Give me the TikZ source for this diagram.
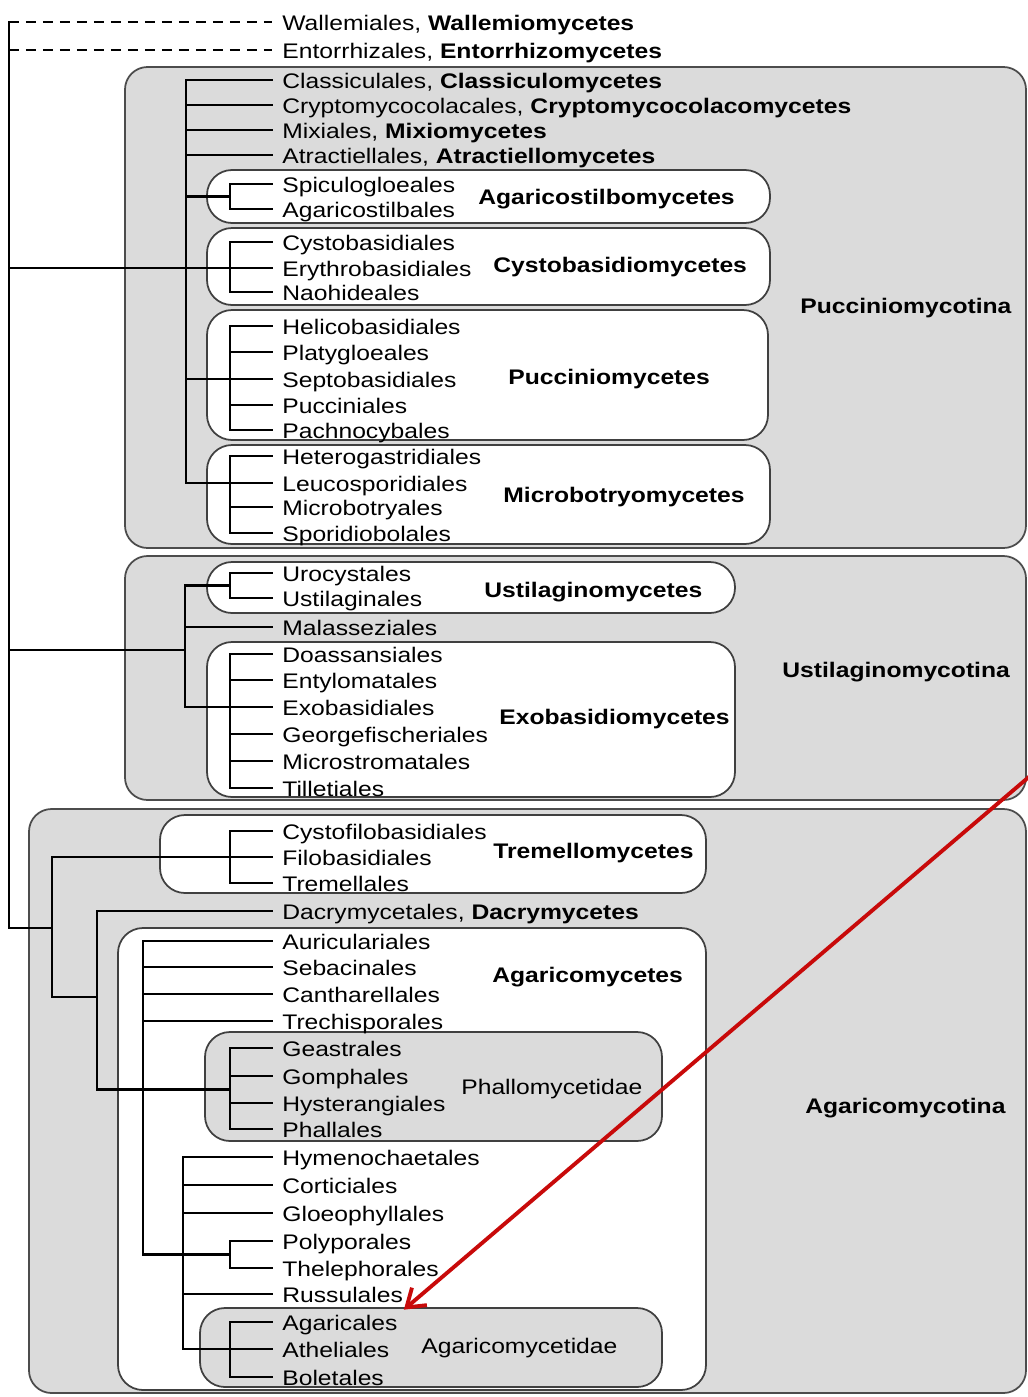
\documentclass[tikz,border=0pt]{standalone}
\usepackage{fontspec}
\setmainfont{Liberation Sans}[FakeStretch=1.17]
\usetikzlibrary{positioning,arrows.meta,calc}
\definecolor{boxgray}{gray}{0.86}
\definecolor{arrowred}{RGB}{200,10,10}
\tikzset{
  leaf/.style={anchor=west,inner xsep=0.2cm,inner ysep=0pt,text height=0.36cm,text depth=0.04cm,font=\fontsize{12}{14}\selectfont},
  grp/.style={anchor=west,inner sep=0pt,text height=0.36cm,text depth=0.04cm,font=\fontsize{12}{14}\selectfont\bfseries},
  subgrp/.style={anchor=west,inner sep=0pt,text height=0.36cm,text depth=0.04cm,font=\fontsize{12}{14}\selectfont},
  tree/.style={line width=1.2pt,line cap=rect},
  brokenline/.style={line width=0.9pt,dash pattern=on 0.2cm off 0.14cm},
  outerbox/.style={draw=black!70,line width=1pt,fill=boxgray,rounded corners=0.45cm},
  classbox/.style={draw=black!75,line width=1pt,fill=white,rounded corners=0.5cm},
  subbox/.style={draw=black!75,line width=1pt,fill=boxgray,rounded corners=0.5cm},
  redarrow/.style={draw=arrowred,line width=2.2pt,-{Straight Barb[length=0.34cm,width=0.46cm]}},
}
\begin{document}
\begin{tikzpicture}[x=0.02cm,y=-0.02cm]
\useasboundingbox (0,0) rectangle (1028,1397);
% subphyla
\draw[outerbox] (125,67) rectangle (1026,548);
\draw[outerbox] (125,556) rectangle (1026,800);
\draw[outerbox] (29,809) rectangle (1026,1393);
% classes
\draw[classbox] (207,170) rectangle (770,223);
\draw[classbox] (207,228) rectangle (770,305);
\draw[classbox] (207,310) rectangle (768,440);
\draw[classbox] (207,445) rectangle (770,544);
\draw[classbox] (207,562) rectangle (735,613);
\draw[classbox] (207,642) rectangle (735,797);
\draw[classbox] (160,815) rectangle (706,893);
\draw[classbox] (118,928) rectangle (706,1390);
% subclasses
\draw[subbox] (205,1032) rectangle (662,1141);
\draw[subbox] (200,1308) rectangle (662,1387);

% orders
\foreach \nm/\y/\txt in {
  walle/22/{Wallemiales, \textbf{Wallemiomycetes}},
  entor/50/{Entorrhizales, \textbf{Entorrhizomycetes}},
  classi/80/{Classiculales, \textbf{Classiculomycetes}},
  crypto/105/{Cryptomycocolacales, \textbf{Cryptomycocolacomycetes}},
  mixi/130/{Mixiales, \textbf{Mixiomycetes}},
  atrac/155/{Atractiellales, \textbf{Atractiellomycetes}},
  spicu/184/Spiculogloeales, agcos/209/Agaricostilbales,
  cysto/242/Cystobasidiales, erythro/268/Erythrobasidiales, naohi/292/Naohideales,
  helico/326/Helicobasidiales, platy/352/Platygloeales, septo/379/Septobasidiales,
  pucci/405/Pucciniales, pachno/430/Pachnocybales,
  hetero/456/Heterogastridiales, leuco/483/Leucosporidiales,
  micro/507/Microbotryales, sporid/533/Sporidiobolales,
  uro/573/Urocystales, ustil/598/Ustilaginales, malas/627/Malasseziales,
  doass/654/Doassansiales, entyl/680/Entylomatales, exoba/707/Exobasidiales,
  georg/734/Georgefischeriales, mistr/761/Microstromatales, tille/788/Tilletiales,
  cyfil/831/Cystofilobasidiales, filob/857/Filobasidiales, treme/883/Tremellales,
  dacry/911/{Dacrymycetales, \textbf{Dacrymycetes}},
  auric/941/Auriculariales, sebac/967/Sebacinales, canth/994/Cantharellales,
  trech/1021/Trechisporales,
  geast/1048/Geastrales, gomph/1076/Gomphales, hyste/1103/Hysterangiales, phall/1129/Phallales,
  hymen/1157/Hymenochaetales, corti/1185/Corticiales, gloeo/1213/Gloeophyllales,
  polyp/1241/Polyporales, theleph/1268/Thelephorales, russu/1294/Russulales,
  agari/1322/Agaricales, athel/1349/Atheliales, bolet/1377/Boletales}
  {\node[leaf] (\nm) at (272,\y) {\txt};}

% group names
\node[grp] (agcosC) at (478,196) {Agaricostilbomycetes};
\node[grp] (cystoC) at (493,264) {Cystobasidiomycetes};
\node[grp] (pucciC) at (508,376) {Pucciniomycetes};
\node[grp] (microC) at (503,494) {Microbotryomycetes};
\node[grp] (ustilC) at (484,589) {Ustilaginomycetes};
\node[grp] (exobaC) at (499,716) {Exobasidiomycetes};
\node[grp] (tremeC) at (493,850) {Tremellomycetes};
\node[grp] (agariC) at (492,974) {Agaricomycetes};
\node[subgrp] (phallS) at (461,1086) {Phallomycetidae};
\node[subgrp] (agariS) at (421,1345) {Agaricomycetidae};
\node[grp] (pucciP) at (800,305) {Pucciniomycotina};
\node[grp] (ustilP) at (782,669) {Ustilaginomycotina};
\node[grp] (agariP) at (805,1105) {Agaricomycotina};

% backbone
\coordinate (rtop) at (9,22);
\coordinate (usroot) at (9,650);
\coordinate (agroot) at (9,928);
\coordinate (pu) at (186,0);   % Pucciniomycotina bar
\coordinate (us) at (185,0);   % Ustilaginomycotina bar
\coordinate (ag1) at (52,0);
\coordinate (ag2) at (97,997);
\coordinate (am) at (143,0);   % Agaricomycetes bar
\coordinate (ah) at (183,0);
\coordinate (cb) at (230,0);   % class brackets
\draw[tree] (rtop) -- (agroot);
\draw[brokenline] (rtop) -- (walle.west);
\draw[brokenline] (rtop |- entor.west) -- (entor.west);

% Pucciniomycotina
\draw[tree] (rtop |- erythro.west) -- (erythro.west);
\draw[tree] (classi.west) -| (pu |- leuco.west) -- (cb |- leuco.west);
\foreach \nm in {crypto,mixi,atrac}
  \draw[tree] (pu |- \nm.west) -- (\nm.west);
\coordinate (asm) at ($(spicu.west)!.5!(agcos.west)$);
\draw[tree] (pu |- asm) -- (cb |- asm);
\draw[tree] (spicu.west) -| (cb |- agcos.west) -- (agcos.west);
\draw[tree] (cysto.west) -| (cb |- naohi.west) -- (naohi.west);
\draw[tree] (pu |- septo.west) -- (septo.west);
\draw[tree] (helico.west) -| (cb |- pachno.west) -- (pachno.west);
\foreach \nm in {platy,pucci}
  \draw[tree] (cb |- \nm.west) -- (\nm.west);
\draw[tree] (hetero.west) -| (cb |- sporid.west) -- (sporid.west);
\foreach \nm in {leuco,micro}
  \draw[tree] (cb |- \nm.west) -- (\nm.west);

% Ustilaginomycotina
\coordinate (usm) at ($(uro.west)!.5!(ustil.west)$);
\draw[tree] (usroot) -- (us |- usroot);
\draw[tree] (us |- usm) -- (us |- exoba.west) -- (exoba.west);
\draw[tree] (us |- usm) -- (cb |- usm);
\draw[tree] (uro.west) -| (cb |- ustil.west) -- (ustil.west);
\draw[tree] (us |- malas.west) -- (malas.west);
\draw[tree] (doass.west) -| (cb |- tille.west) -- (tille.west);
\foreach \nm in {entyl,georg,mistr}
  \draw[tree] (cb |- \nm.west) -- (\nm.west);

% Agaricomycotina
\draw[tree] (agroot) -- (ag1 |- agroot);
\draw[tree] (ag1 |- filob.west) -- (filob.west);
\draw[tree] (ag1 |- filob.west) -- (ag1 |- ag2) -- (ag2);
\draw[tree] (cyfil.west) -| (cb |- treme.west) -- (treme.west);
\coordinate (phm) at ($(gomph.west)!.5!(hyste.west)$);
\draw[tree] (dacry.west) -| (ag2 |- phm) -- (cb |- phm);
\draw[tree] (geast.west) -| (cb |- phall.west) -- (phall.west);
\foreach \nm in {gomph,hyste}
  \draw[tree] (cb |- \nm.west) -- (\nm.west);
\coordinate (pom) at ($(polyp.west)!.5!(theleph.west)$);
\draw[tree] (auric.west) -| (am |- pom) -- (cb |- pom);
\foreach \nm in {sebac,canth,trech}
  \draw[tree] (am |- \nm.west) -- (\nm.west);
\draw[tree] (polyp.west) -| (cb |- theleph.west) -- (theleph.west);
\draw[tree] (hymen.west) -| (ah |- athel.west) -- (athel.west);
\foreach \nm in {corti,gloeo,russu}
  \draw[tree] (ah |- \nm.west) -- (\nm.west);
\draw[tree] (agari.west) -| (cb |- bolet.west) -- (bolet.west);

% pointer
\coordinate (arrowstart) at (1030,776);
\draw[redarrow] (arrowstart) -- ([shift={(-4,-2)}]agari.north east);
\end{tikzpicture}
\end{document}
